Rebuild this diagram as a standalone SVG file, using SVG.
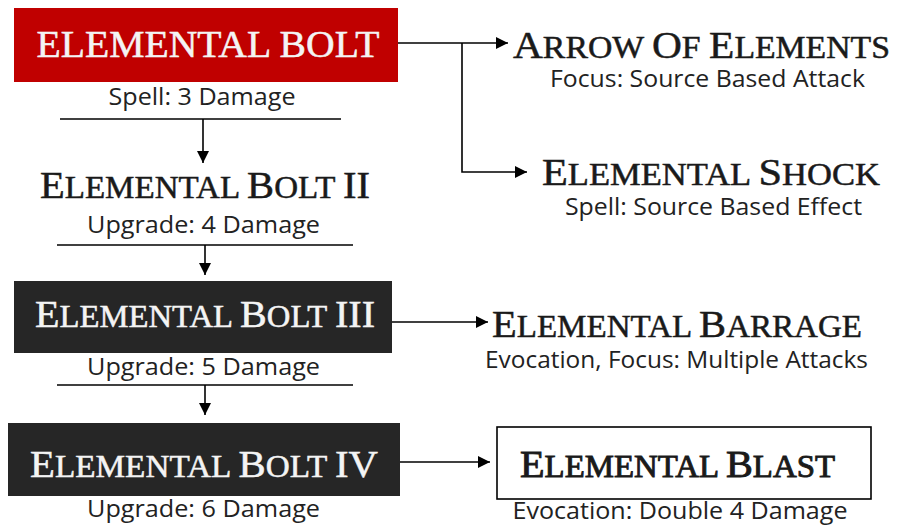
<svg xmlns="http://www.w3.org/2000/svg" width="906" height="525" viewBox="0 0 906 525">
  <style>
    .title { font-family: "Liberation Serif", "Times New Roman", serif; font-size: 31px; text-anchor: middle; stroke-width: 0.5px; }
    .title .cap { font-size: 38px; }
    .title.big { font-size: 37px; }
    .dark { fill: #1a1a1a; stroke: #1a1a1a; }
    .light { fill: #f4f4f4; stroke: #f4f4f4; }
    .sub { font-family: "Open Sans", "Noto Sans", "Liberation Sans", sans-serif; font-size: 23px; fill: #222222; text-anchor: middle; }
    .wire { fill: none; stroke: #000000; stroke-width: 1.6; }
  </style>
  <defs>
    <marker id="arrow" viewBox="0 0 12 12" refX="12" refY="6" markerWidth="12" markerHeight="12" markerUnits="userSpaceOnUse" orient="auto">
      <path d="M0,0 L12,6 L0,12 Z" fill="#000000"/>
    </marker>
  </defs>
  <rect width="906" height="525" fill="#ffffff"/>

  <!-- connectors -->
  <g id="connectors">
    <path class="wire" d="M398,43 H508" marker-end="url(#arrow)"/>
    <path class="wire" d="M462,43 V172 H527" marker-end="url(#arrow)"/>
    <path class="wire" d="M60,119 H341"/>
    <path class="wire" d="M203,119 V163" marker-end="url(#arrow)"/>
    <path class="wire" d="M57,245 H353"/>
    <path class="wire" d="M205,245 V275" marker-end="url(#arrow)"/>
    <path class="wire" d="M392,322 H488" marker-end="url(#arrow)"/>
    <path class="wire" d="M57,385 H353"/>
    <path class="wire" d="M205,385 V415" marker-end="url(#arrow)"/>
    <path class="wire" d="M400,462 H490" marker-end="url(#arrow)"/>
  </g>

  <!-- spell chain -->
  <g id="elemental-bolt">
    <rect x="14" y="8" width="384" height="74" fill="#c00000"/>
    <text class="title big light" x="208" y="57" textLength="343" lengthAdjust="spacingAndGlyphs">ELEMENTAL BOLT</text>
    <text class="sub" x="202" y="105" textLength="187" lengthAdjust="spacingAndGlyphs">Spell: 3 Damage</text>
  </g>

  <g id="elemental-bolt-2">
    <text class="title dark" x="205" y="198" textLength="330" lengthAdjust="spacingAndGlyphs"><tspan class="cap">E</tspan>LEMENTAL <tspan class="cap">B</tspan>OLT <tspan class="cap">II</tspan></text>
    <text class="sub" x="203.5" y="233" textLength="233" lengthAdjust="spacingAndGlyphs">Upgrade: 4 Damage</text>
  </g>

  <g id="elemental-bolt-3">
    <rect x="14" y="281" width="378" height="72" fill="#262626"/>
    <text class="title light" x="205" y="327" textLength="340" lengthAdjust="spacingAndGlyphs"><tspan class="cap">E</tspan>LEMENTAL <tspan class="cap">B</tspan>OLT <tspan class="cap">III</tspan></text>
    <text class="sub" x="203.5" y="375" textLength="233" lengthAdjust="spacingAndGlyphs">Upgrade: 5 Damage</text>
  </g>

  <g id="elemental-bolt-4">
    <rect x="8" y="423" width="392" height="73" fill="#262626"/>
    <text class="title light" x="204" y="477" textLength="348" lengthAdjust="spacingAndGlyphs"><tspan class="cap">E</tspan>LEMENTAL <tspan class="cap">B</tspan>OLT <tspan class="cap">IV</tspan></text>
    <text class="sub" x="203.5" y="517" textLength="233" lengthAdjust="spacingAndGlyphs">Upgrade: 6 Damage</text>
  </g>

  <!-- branches -->
  <g id="arrow-of-elements">
    <text class="title dark" x="701.5" y="58" textLength="377" lengthAdjust="spacingAndGlyphs"><tspan class="cap">A</tspan>RROW <tspan class="cap">O</tspan>F <tspan class="cap">E</tspan>LEMENTS</text>
    <text class="sub" x="707.5" y="87" textLength="315" lengthAdjust="spacingAndGlyphs">Focus: Source Based Attack</text>
  </g>

  <g id="elemental-shock">
    <text class="title dark" x="711" y="185" textLength="338" lengthAdjust="spacingAndGlyphs"><tspan class="cap">E</tspan>LEMENTAL <tspan class="cap">S</tspan>HOCK</text>
    <text class="sub" x="713.5" y="215" textLength="297" lengthAdjust="spacingAndGlyphs">Spell: Source Based Effect</text>
  </g>

  <g id="elemental-barrage">
    <text class="title dark" x="677" y="337" textLength="370" lengthAdjust="spacingAndGlyphs"><tspan class="cap">E</tspan>LEMENTAL <tspan class="cap">B</tspan>ARRAGE</text>
    <text class="sub" x="676.5" y="368" textLength="383" lengthAdjust="spacingAndGlyphs">Evocation, Focus: Multiple Attacks</text>
  </g>

  <g id="elemental-blast">
    <rect x="497" y="427" width="374" height="72" fill="#ffffff" stroke="#000000" stroke-width="1.6"/>
    <text class="title dark" x="677.5" y="477" style="stroke-width:0.9px" textLength="315" lengthAdjust="spacingAndGlyphs"><tspan class="cap">E</tspan>LEMENTAL <tspan class="cap">B</tspan>LAST</text>
    <text class="sub" x="680" y="519" textLength="335" lengthAdjust="spacingAndGlyphs">Evocation: Double 4 Damage</text>
  </g>
</svg>
